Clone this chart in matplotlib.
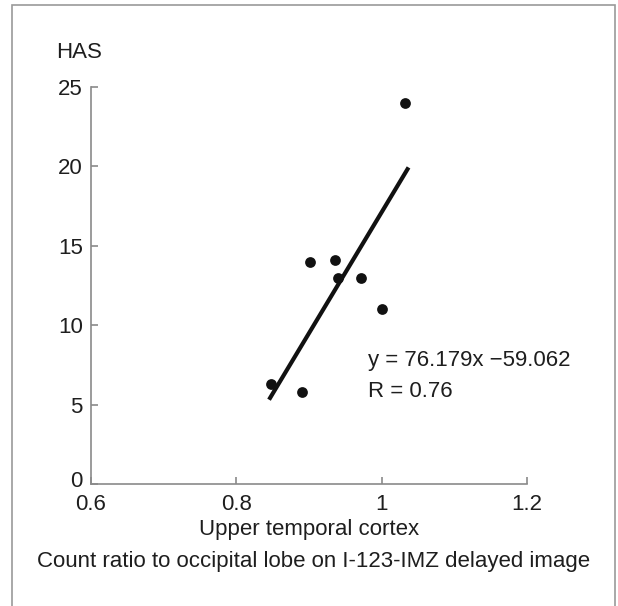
import numpy as np
import matplotlib
matplotlib.use("Agg")
import matplotlib.pyplot as plt
import matplotlib.transforms as mtransforms
from matplotlib.patches import Rectangle

plt.rcParams['font.family'] = ['Liberation Sans', 'DejaVu Sans']

# count ratio (upper temporal cortex / occipital lobe) vs HAS
ratio = [0.848, 0.891, 0.902, 0.936, 0.940, 0.971, 1.000, 1.032]
has = [6.3, 5.8, 14.0, 14.1, 13.0, 13.0, 11.0, 24.0]

slope, intercept = 76.179, -59.062
r_value = 0.76
fit_range = [0.845, 1.037]

x_ticks = [0.6, 0.8, 1.0, 1.2]
x_ticklabels = ['0.6', '0.8', '1', '1.2']
y_ticks = [0, 5, 10, 15, 20, 25]

text_col = '#1e1e1e'
axis_col = '#8a8a8a'
fs = 16

fig = plt.figure(figsize=(6.18, 6.06), dpi=100)
ax = fig.add_axes([91/618, 1-484/606, (527-91)/618, (484-87)/606])

ax.scatter(ratio, has, s=60, color='#111111', zorder=3, linewidths=0)
fx = np.array(fit_range)
ax.plot(fx, slope*fx + intercept, color='#111111', lw=3.0, solid_capstyle='butt')

ax.set_xlim(0.6, 1.2)
ax.set_ylim(0, 25)
ax.set_xticks(x_ticks)
ax.set_xticklabels(x_ticklabels)
ax.set_yticks(y_ticks)
for s in ['top', 'right']:
    ax.spines[s].set_visible(False)
for s in ['left', 'bottom']:
    ax.spines[s].set_color(axis_col)
    ax.spines[s].set_linewidth(1.2)
ax.tick_params(direction='in', length=5, width=1.2, color=axis_col,
               labelsize=fs, labelcolor=text_col)
ax.tick_params(axis='y', pad=6)
ax.tick_params(axis='x', pad=7)

# the "0" on the y axis sits a little higher, clear of "0.6"
lab0 = ax.get_yticklabels()[0]
lab0.set_transform(lab0.get_transform() +
                   mtransforms.ScaledTranslation(0, 5/100, fig.dpi_scale_trans))

ax.text(0.981, 7.8, 'y = 76.179x \u221259.062', fontsize=fs, color=text_col, va='center')
ax.text(0.981, 5.8, 'R = %.2f' % r_value, fontsize=fs, color=text_col, va='center')

fig.text(56/618, 1-53/606, 'HAS', fontsize=fs, color=text_col, va='center', ha='left')
fig.text(309/618, 1-529/606, 'Upper temporal cortex', fontsize=fs, color=text_col,
         ha='center', va='center')
fig.text(314/618, 1-562/606, 'Count ratio to occipital lobe on I-123-IMZ delayed image',
         fontsize=fs, color=text_col, ha='center', va='center')

# outer frame around the figure panel
fig.patches.append(Rectangle((12/618, -0.05), (615-12)/618, 1.05-5/606,
                             transform=fig.transFigure, fill=False,
                             edgecolor='#9a9a9a', lw=1.2))

fig.savefig('out.png', dpi=100)
